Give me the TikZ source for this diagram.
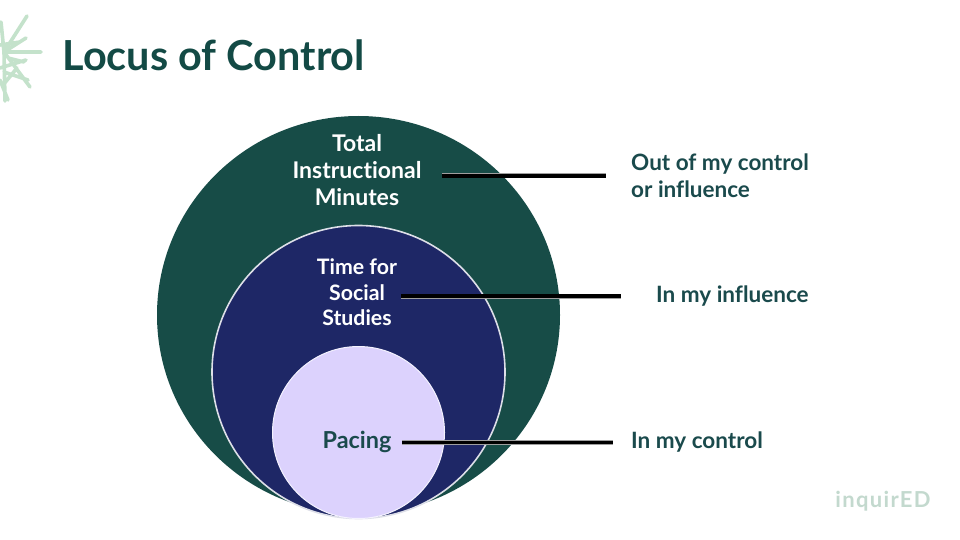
\documentclass[tikz,border=0pt]{standalone}
\usepackage{fontspec}
\setmainfont[Ligatures=NoCommon]{Lato}
\definecolor{deepgreen}{HTML}{174C47}
\definecolor{navy}{HTML}{1E2766}
\definecolor{lilac}{HTML}{DCD2FD}
\definecolor{titlegreen}{HTML}{134A45}
\definecolor{labelgreen}{HTML}{1A4A4C}
\definecolor{leaf}{HTML}{C4E2CB}
\definecolor{logo}{HTML}{C3D9CE}
\tikzset{
  x=1pt,y=-1pt,
  ringlabel/.style={align=center,text=white,font=\fontsize{23}{27}\selectfont\bfseries,inner sep=0pt},
  sidelabel/.style={anchor=west,align=left,text=labelgreen,font=\fontsize{22.5}{27}\selectfont\bfseries,inner sep=0pt},
  leader/.style={line width=3.2pt,draw=black,preaction={draw=gray!75,line width=5pt}},
  ray/.style={draw=leaf,line width=3.6pt,line cap=round,line join=round},
}
\begin{document}
\begin{tikzpicture}
\useasboundingbox (0,0) rectangle (960,540);
\fill[white] (0,0) rectangle (960,540);
% star logo mark
\coordinate (st) at (4,52);
\draw[ray] (st) -- (27,16) (st) -- (41,52) (st) -- (30,87) (st) -- (5,101)
  (st) -- (1,22) (st) -- (26,38) (0,68) -- (26,60) (4,72) -- (28,80) (3,85) -- (17,68)
  (0,45) -- (20,42) (8,58) -- (24,62) (0,80) -- (8,100);
\node[anchor=west,inner sep=0pt,text=titlegreen,font=\fontsize{41.4}{48}\selectfont\bfseries] (title) at (62.5,55.5) {Locus of Control};
% circles
\fill[deepgreen] (358.5,315) ellipse [x radius=201.5,y radius=199];
\draw[fill=navy,draw=white!85!navy,line width=1.6pt] (358.5,372) circle [radius=146.5];
\draw[fill=lilac,draw=white!70!lilac,line width=1pt] (358.5,432.5) circle [radius=86];
% ring labels
\node[ringlabel] (total) at (357,170.5) {Total\\Instructional\\Minutes};
\node[ringlabel,font=\fontsize{21.3}{25.5}\selectfont\bfseries] (time) at (357,292.5) {Time for\\Social\\Studies};
\node[ringlabel,text=labelgreen,font=\fontsize{23.4}{27}\selectfont\bfseries] (pacing) at (357,442) {Pacing};
% side labels
\node[sidelabel] (out) at (631,175.5) {Out of my control\\or influence};
\node[sidelabel] (infl) at (656,296.5) {In my influence};
\node[sidelabel] (ctrl) at (631,442) {In my control};
% leaders
\coordinate (a1) at (442,176); \coordinate (a2) at (606,176);
\coordinate (b1) at (401,296); \coordinate (b2) at (621,296);
\coordinate (c1) at (402,442.5); \coordinate (c2) at (613,442.5);
\draw[leader] (a1) -- (a2);
\draw[leader] (b1) -- (b2);
\draw[leader] (c1) -- (c2);
% footer logo
\node[anchor=center,inner sep=0pt,text=logo,font=\fontsize{22}{26}\selectfont\bfseries] (brand) at (883,501.5) {\addfontfeature{LetterSpace=6}inquirED};
\end{tikzpicture}
\end{document}
